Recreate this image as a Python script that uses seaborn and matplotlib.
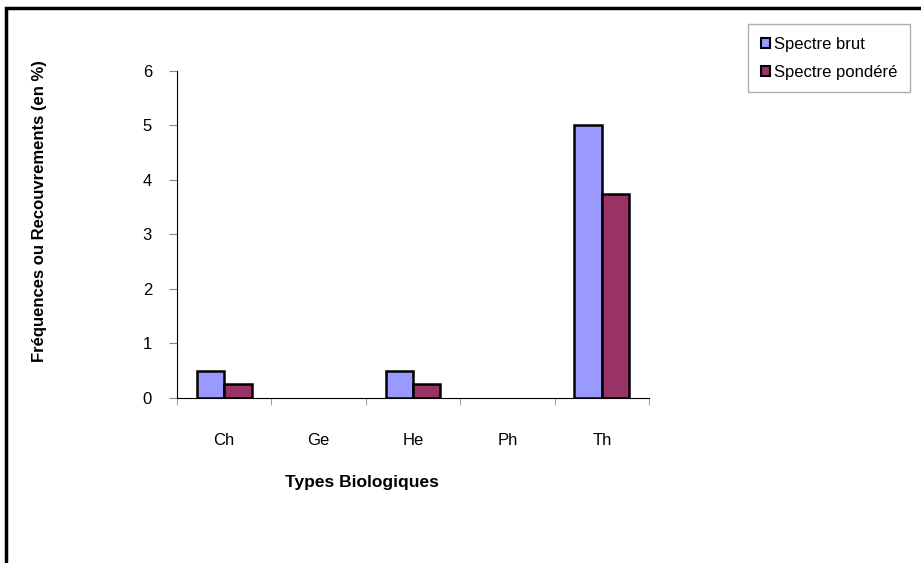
import numpy as np
import pandas as pd
import seaborn as sns
import matplotlib.pyplot as plt
from matplotlib.patches import Rectangle
from matplotlib.ticker import FixedLocator

types = ["Ch", "Ge", "He", "Ph", "Th"]
spectre_brut = [0.5, 0, 0.5, 0, 5]
spectre_pondere = [0.25, 0, 0.25, 0, 3.75]

df = pd.DataFrame({
    "type": types * 2,
    "valeur": spectre_brut + spectre_pondere,
    "spectre": ["Spectre brut"] * len(types) + ["Spectre pondéré"] * len(types),
})

sns.set_style("white")
plt.rcParams["font.family"] = ["Liberation Sans", "DejaVu Sans"]
plt.rcParams["text.color"] = "black"
plt.rcParams["xtick.color"] = "black"
plt.rcParams["ytick.color"] = "black"

fig = plt.figure(figsize=(9.21, 5.63), dpi=100)
ax = fig.add_axes([0.1922, 0.2931, 0.5125, 0.5808])

sns.barplot(data=df, x="type", y="valeur", hue="spectre", order=types,
            palette={"Spectre brut": "#9999FF", "Spectre pondéré": "#993366"},
            width=0.58, edgecolor="black", linewidth=1.8, saturation=1, ax=ax)

ax.set_xlim(-0.5, 4.5)
ax.set_ylim(0, 6)
ax.set_yticks(range(7))
ax.tick_params(axis="y", labelsize=12, length=6, color="#888888", labelcolor="black",
               direction="out", left=True, pad=12)
ax.tick_params(axis="x", which="major", labelsize=12, length=0, pad=25, labelcolor="black")
ax.xaxis.set_minor_locator(FixedLocator(np.arange(-0.5, 5, 1)))
ax.tick_params(axis="x", which="minor", length=5, color="#888888", direction="out", bottom=True)
sns.despine(ax=ax)
ax.spines["left"].set_color("black")
ax.spines["bottom"].set_color("black")
ax.set_xlabel("")
ax.set_ylabel("")

fig.text(362 / 921, 1 - 482 / 563, "Types Biologiques", ha="center", va="center",
         fontsize=12.5, fontweight="bold")
fig.text(40 / 921, 1 - 211 / 563, "Fréquences ou Recouvrements (en %)", ha="center",
         va="center", rotation=90, fontsize=12, fontweight="bold")

leg = ax.legend(loc="upper left", bbox_to_anchor=(748 / 921, 1 - 24 / 563),
                bbox_transform=fig.transFigure, frameon=True, fancybox=False,
                fontsize=12, handlelength=0.55, handleheight=0.55, handletextpad=0.25,
                labelspacing=0.8, borderpad=0.75, borderaxespad=0)
leg.get_frame().set_edgecolor("#999999")
leg.get_frame().set_linewidth(1)
for t in leg.get_texts():
    t.set_color("black")
for h in leg.legend_handles:
    h.set_edgecolor("black")
    h.set_linewidth(1.5)

# no outline on empty bars
for p in ax.patches:
    if p.get_height() == 0:
        p.set_linewidth(0)

fig.add_artist(Rectangle((6 / 921, -0.05), 1.1, (1 - 8 / 563) + 0.05,
                         transform=fig.transFigure, fill=False,
                         edgecolor="black", linewidth=2.5, clip_on=False))

fig.savefig("out.png", dpi=100)
